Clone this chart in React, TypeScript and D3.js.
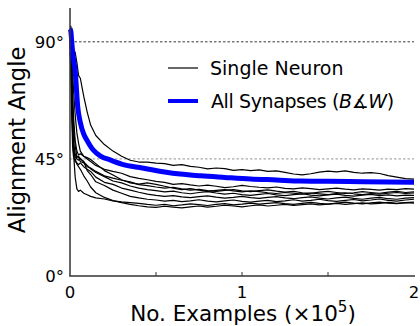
import React from "react";
import * as d3 from "d3";

const xGrid = [0, 0.005, 0.01, 0.015, 0.02, 0.03, 0.04, 0.05, 0.06, 0.08, 0.1, 0.12, 0.15, 0.2, 0.25, 0.3, 0.35, 0.4, 0.45, 0.5, 0.55, 0.6, 0.65, 0.7, 0.75, 0.8, 0.85, 0.9, 0.95, 1.0, 1.05, 1.1, 1.15, 1.2, 1.25, 1.3, 1.35, 1.4, 1.45, 1.5, 1.55, 1.6, 1.65, 1.7, 1.75, 1.8, 1.85, 1.9, 1.95, 2.0];

const neuron1 = [93, 96, 92, 89, 87, 86, 82, 77, 76, 69, 63, 58, 54, 50.5, 48, 46, 44.5, 43.8, 43.8, 43.4, 43.2, 42.5, 42.8, 42.1, 41.8, 41.2, 41.5, 41.3, 40.6, 40.9, 40.5, 40.8, 40.2, 40.4, 39.8, 39.2, 38.9, 39.3, 39.9, 40.3, 40.0, 40.4, 39.8, 39.5, 39.7, 39.4, 38.6, 38.0, 37.4, 37.2];
const neuron2 = [90, 94, 88, 80, 72, 62, 55, 51, 48, 46, 45, 44, 42.5, 41, 40.2, 39.5, 38.2, 37.5, 37.0, 36.4, 36.0, 35.2, 35.5, 35.0, 34.6, 34.9, 34.5, 34.0, 34.3, 34.8, 34.4, 34.1, 33.9, 34.2, 33.7, 33.5, 33.9, 33.6, 33.2, 33.5, 33.8, 33.4, 33.1, 33.5, 33.3, 33.0, 33.4, 33.2, 33.6, 33.4];
const neuron3 = [88, 85, 76, 66, 58, 50, 46, 45.5, 44, 43.5, 42, 41.5, 40.2, 38.5, 37.6, 36.8, 36.2, 35.1, 34.7, 34.2, 33.8, 34.1, 33.5, 33.0, 33.3, 32.8, 32.5, 32.9, 33.2, 32.7, 32.4, 32.8, 33.1, 32.6, 32.2, 32.5, 32.0, 31.8, 32.2, 32.5, 32.1, 31.7, 32.0, 32.4, 32.1, 31.8, 32.2, 32.5, 32.1, 32.3];
const neuron4 = [95, 90, 70, 55, 48, 46, 45, 44.5, 45.2, 43.8, 42.5, 41.2, 39.8, 38.2, 36.5, 35.8, 34.6, 33.8, 33.2, 32.8, 32.3, 32.6, 32.0, 31.6, 32.1, 32.4, 31.9, 31.5, 31.8, 31.3, 31.0, 31.4, 31.7, 31.2, 30.9, 31.3, 31.6, 31.1, 30.8, 31.2, 31.5, 31.0, 30.7, 31.1, 31.4, 30.9, 31.2, 30.8, 31.1, 31.0];
const neuron5 = [86, 80, 62, 50, 46, 44, 43.5, 42.8, 43.5, 42.0, 41.0, 40.2, 38.0, 36.0, 35.2, 33.8, 33.0, 32.2, 31.5, 31.0, 30.6, 30.9, 30.4, 30.1, 30.5, 30.8, 30.3, 29.9, 30.2, 30.6, 30.1, 29.8, 30.2, 30.5, 30.0, 29.7, 30.1, 30.4, 29.9, 29.6, 30.0, 30.3, 29.8, 29.5, 29.9, 30.2, 29.7, 29.5, 29.9, 30.1];
const neuron6 = [91, 87, 74, 60, 52, 47, 45.5, 46, 45, 44, 40.5, 39, 36.2, 34.8, 33.0, 31.8, 30.6, 30.0, 29.5, 29.2, 28.8, 29.1, 28.6, 28.9, 29.3, 28.8, 28.5, 28.9, 29.2, 28.7, 28.4, 28.8, 29.1, 28.6, 28.9, 29.3, 28.8, 29.1, 29.5, 29.0, 28.7, 29.1, 29.4, 28.9, 29.2, 29.6, 29.1, 28.8, 29.2, 29.5];
const neuron7 = [89, 82, 68, 56, 48, 38, 33.5, 32.5, 33.0, 31.8, 31.2, 30.6, 30.0, 29.6, 28.9, 28.5, 28.2, 27.9, 27.5, 27.2, 27.5, 27.0, 27.3, 27.7, 27.4, 27.1, 27.5, 27.8, 27.3, 27.6, 28.0, 27.6, 27.9, 28.2, 27.8, 27.5, 27.9, 28.3, 27.9, 27.6, 28.0, 28.4, 28.0, 27.7, 28.1, 28.4, 28.0, 27.8, 28.2, 28.4];
const neuron8 = [94, 88, 72, 58, 50, 45, 43, 42, 41, 38.5, 36.5, 34.2, 32.0, 30.2, 29.0, 28.2, 27.5, 27.0, 26.6, 26.4, 26.8, 26.5, 26.2, 26.6, 26.9, 26.5, 26.8, 27.2, 26.9, 26.6, 27.0, 27.3, 26.9, 27.2, 27.5, 27.1, 27.4, 27.7, 27.3, 27.6, 27.9, 27.5, 27.8, 28.1, 27.7, 27.9, 28.3, 27.9, 28.2, 28.0];
const neuron9 = [92, 95, 85, 72, 62, 52, 48, 46.5, 47, 46, 45.5, 44.8, 43.2, 40.5, 38.8, 37.0, 35.8, 35.3, 35.8, 35.2, 34.5, 33.8, 33.2, 33.6, 33.0, 32.5, 32.9, 33.2, 32.7, 32.3, 32.7, 32.4, 32.0, 31.7, 32.1, 31.8, 31.5, 31.9, 31.6, 31.3, 31.7, 32.0, 31.6, 31.3, 31.7, 31.5, 31.8, 32.1, 31.7, 31.9];

const neurons = [neuron1, neuron2, neuron3, neuron4, neuron5, neuron6, neuron7, neuron8, neuron9];

const synX = [0, 0.005, 0.01, 0.017, 0.03, 0.045, 0.06, 0.08, 0.1, 0.134, 0.18, 0.233, 0.3, 0.42, 0.55, 0.64, 0.76, 0.9, 1.05, 1.2, 1.34, 1.5, 1.7, 2.0];
const synY = [95, 94, 90, 85, 79, 65, 59, 54.5, 52, 48.5, 46, 44.6, 43, 41.5, 40, 39.2, 38.5, 37.9, 37.3, 36.9, 36.5, 36.4, 36.2, 36.0];

const xTicks = [0, 1, 2];
const xMinorTicks = [0.5, 1, 1.5];
const yTicks = [0, 45, 90];
const refLines = [45, 90];

const FONT = "DejaVu Sans, sans-serif";

export default function App() {
  const W = 420, H = 326;
  const x = d3.scaleLinear().domain([0, 2]).range([70, 414]);
  const y = d3.scaleLinear().domain([0, 103]).range([276, 8]);

  const line = d3
    .line<number>()
    .x((_, i) => x(xGrid[i]))
    .y((d) => y(d));

  const blue = d3
    .line<number>()
    .x((_, i) => x(synX[i]))
    .y((d) => y(d))
    .curve(d3.curveMonotoneX);

  return (
    <svg width={W} height={H} style={{ position: "absolute", left: 0, top: 0, background: "#fff" }} fontFamily={FONT}>
      {refLines.map((v) => (
        <line
          key={v}
          x1={x(0)}
          x2={x(2)}
          y1={y(v)}
          y2={y(v)}
          stroke={v === 90 ? "#222" : "#888"}
          strokeWidth={0.9}
          strokeDasharray="2.5,2"
        />
      ))}
      {neurons.map((n, i) => (
        <path key={i} d={line(n) || ""} fill="none" stroke="#000" strokeWidth={1.2} strokeLinejoin="round" />
      ))}
      <path d={blue(synY) || ""} fill="none" stroke="#0000ff" strokeWidth={5} strokeLinejoin="round" strokeLinecap="butt" />

      {/* spines */}
      <line x1={70} x2={70} y1={8} y2={276} stroke="#333" strokeWidth={1.5} />
      <line x1={69.25} x2={415} y1={276} y2={276} stroke="#333" strokeWidth={1.5} />
      {xMinorTicks.map((t) => (
        <line key={t} x1={x(t)} x2={x(t)} y1={276} y2={272} stroke="#333" strokeWidth={1} />
      ))}
      {xTicks.map((t) => (
        <text key={t} x={x(t)} y={298} fontSize={16.5} textAnchor="middle" fill="#000">
          {t}
        </text>
      ))}
      {yTicks.map((t) => (
        <text key={t} x={64} y={y(t) + 6} fontSize={16.5} textAnchor="end" fill="#000">
          {t}°
        </text>
      ))}
      <text x={243} y={321} fontSize={21.5} textAnchor="middle" fill="#000">
        No. Examples (×10<tspan dy={-9} fontSize={15}>5</tspan><tspan dy={9}>)</tspan>
      </text>
      <text transform="translate(25,140) rotate(-90)" fontSize={22.5} textAnchor="middle" fill="#000">
        Alignment Angle
      </text>

      {/* legend */}
      <line x1={168} x2={198} y1={68} y2={68} stroke="#000" strokeWidth={1.2} />
      <text x={210} y={75} fontSize={19} fill="#000">Single Neuron</text>
      <line x1={168} x2={198} y1={101} y2={101} stroke="#0000ff" strokeWidth={4} />
      <text x={211} y={108} fontSize={19} fill="#000" letterSpacing={-0.4}>
        All Synapses (<tspan fontStyle="italic">B</tspan>{"\u2221"}<tspan fontStyle="italic">W</tspan>)
      </text>
    </svg>
  );
}
